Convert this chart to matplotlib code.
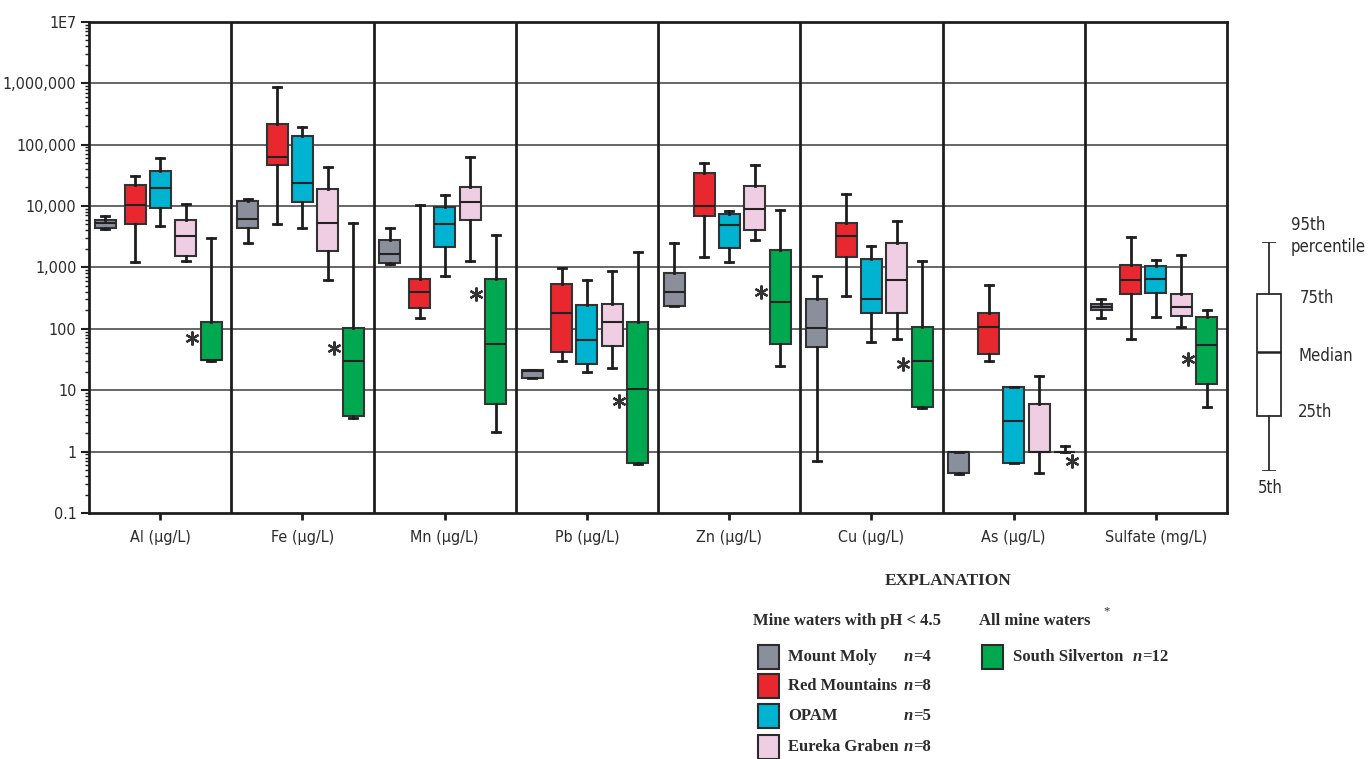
import matplotlib
matplotlib.use("Agg")
import matplotlib.pyplot as plt
from matplotlib import font_manager
from matplotlib.patches import Rectangle
from matplotlib.ticker import FixedLocator, LogLocator, NullFormatter

# constituents on the x axis
groups = ["Al (µg/L)", "Fe (µg/L)", "Mn (µg/L)", "Pb (µg/L)",
          "Zn (µg/L)", "Cu (µg/L)", "As (µg/L)", "Sulfate (mg/L)"]

# (5th, 25th, median, 75th, 95th) for each constituent
mount_moly = [(4200, 4420, 5240, 5850, 6900), (2530, 4350, 6050, 12000, 13100),
              (1120, 1190, 1680, 2790, 4300), (15.9, 15.9, 20.4, 21.5, 21.5),
              (235, 238, 404, 820, 2460), (0.71, 50, 102, 310, 720),
              (0.43, 0.44, 1.0, 1.0, 1.0), (152, 202, 226, 250, 310)]
red_mountains = [(1220, 5050, 10500, 22000, 31000), (5050, 47000, 63000, 218000, 880000),
                 (148, 219, 395, 640, 10500), (29.7, 42.5, 178, 543, 970),
                 (1450, 6900, 10100, 34000, 50500), (336, 1500, 3220, 5360, 15500),
                 (30, 39, 105, 178, 519), (68, 371, 630, 1090, 3160)]
opam = [(4650, 9100, 19700, 37000, 60000), (4420, 11600, 23800, 140000, 190000),
        (730, 2150, 5050, 9750, 15000), (19.9, 26.3, 65.5, 246, 630),
        (1230, 2040, 4860, 7500, 8150), (60, 181, 310, 1370, 2225),
        (0.64, 0.64, 3.16, 11.4, 11.4), (154, 388, 640, 1070, 1310)]
eureka_graben = [(1260, 1520, 3300, 5800, 10900), (630, 1860, 5350, 18700, 43000),
                 (1260, 5800, 11500, 20200, 62400), (23.2, 52.4, 128, 256, 870),
                 (2790, 4080, 9040, 21300, 45700), (69, 178, 630, 2530, 5600),
                 (0.45, 1.0, 1.0, 5.86, 17.2), (106, 163, 226, 362, 1590)]
south_silverton = [(30, 30.5, 30.9, 128, 3030), (3.57, 3.75, 30.4, 104, 5250),
                   (2.05, 5.94, 56.5, 640, 3360), (0.63, 0.64, 10.4, 128, 1810),
                   (24.6, 56.5, 274, 1950, 8700), (5.1, 5.24, 30.4, 105, 1260),
                   (1.0, 1.0, 1.0, 1.0, 1.25), (5.3, 12.8, 54.3, 155, 204)]

# where the asterisk sits next to the South Silverton box
star_y = [70, 49, 371, 6.7, 400, 27, 0.7, 32]

sites = ["Mount Moly", "Red Mountains", "OPAM", "Eureka Graben", "South Silverton"]
counts = ["4", "8", "5", "8", "12"]
colors = ["#8a8f9b", "#e8282e", "#00b3d1", "#efcee3", "#00a94f"]

ytick_vals = [0.1, 1, 10, 100, 1000, 1e4, 1e5, 1e6, 1e7]
ytick_labels = ["0.1", "1", "10", "100", "1,000", "10,000", "100,000", "1,000,000", "1E7"]

# condensed sans if the system has one, otherwise plain DejaVu a bit smaller
cond = font_manager.FontProperties(family="DejaVu Sans", stretch="condensed")
cond_path = font_manager.findfont(cond)
if "Condensed" in cond_path:
    sans = font_manager.FontProperties(fname=cond_path)
    fs = 11.5
else:
    sans = font_manager.FontProperties(family="DejaVu Sans")
    fs = 10.5
serif = ["Liberation Serif", "DejaVu Serif"]
ink = "#2b2b2b"

W, H = 1369, 759
fig = plt.figure(figsize=(W / 100, H / 100), dpi=100)


def fx(x):
    return x / W


def fy(y):
    return 1 - y / H


ax = fig.add_axes([fx(89), fy(513), fx(1227) - fx(89), fy(21.7) - fy(513)])
ax.set_yscale("log")
ax.set_ylim(0.1, 1e7)
ax.set_xlim(-0.5, len(groups) - 0.5)

offsets = [-0.385, -0.176, 0.0, 0.179, 0.358]
all_sites = [mount_moly, red_mountains, opam, eureka_graben, south_silverton]
for s, site in enumerate(all_sites):
    stats = []
    for p5, p25, med, p75, p95 in site:
        stats.append(dict(whislo=p5, q1=p25, med=med, q3=p75, whishi=p95, fliers=[]))
    pos = [g + offsets[s] for g in range(len(groups))]
    ax.bxp(stats, positions=pos, widths=0.148, capwidths=0.056, showfliers=False,
           patch_artist=True, manage_ticks=False,
           boxprops=dict(facecolor=colors[s], edgecolor="#333333", linewidth=1.5),
           medianprops=dict(color="#222222", linewidth=1.5),
           whiskerprops=dict(color="#1e1e1e", linewidth=2),
           capprops=dict(color="#1e1e1e", linewidth=2), zorder=3)

# asterisks marking "all mine waters"
for g in range(len(groups)):
    dx = -0.135 if g != 6 else 0.05
    ax.plot(g + offsets[4] + dx, star_y[g], marker=(6, 2, 0), ms=10, mew=1.6,
            color="#333333", zorder=4)

# grid and group separators
for v in ytick_vals[1:-1]:
    ax.axhline(v, color="#5a5a5a", lw=1.3, zorder=1)
for g in range(1, len(groups)):
    ax.axvline(g - 0.5, color="#1e1e1e", lw=2, zorder=1)
for sp in ax.spines.values():
    sp.set_linewidth(2)
    sp.set_color("#1e1e1e")

ax.yaxis.set_major_locator(FixedLocator(ytick_vals))
ax.set_yticklabels(ytick_labels)
ax.yaxis.set_minor_locator(LogLocator(base=10, subs=range(2, 10), numticks=20))
ax.yaxis.set_minor_formatter(NullFormatter())
ax.tick_params(axis="y", which="major", length=6, width=1.5, pad=3, color="#1e1e1e",
               labelcolor=ink)
ax.tick_params(axis="y", which="minor", length=3, width=1, color="#1e1e1e")
ax.set_xticks(range(len(groups)))
ax.set_xticklabels(groups)
ax.tick_params(axis="x", length=5, width=2, pad=7, color="#1e1e1e", labelcolor=ink)
for lab in ax.get_xticklabels() + ax.get_yticklabels():
    lab.set_fontproperties(sans)
    lab.set_fontsize(fs)

# box-plot key on the right
kax = fig.add_axes([fx(1229), fy(470.7), fx(80), fy(242) - fy(470.7)])
kax.set_xlim(-0.5, 0.5)
kax.set_ylim(0, 1)
kax.axis("off")
key_stats = [dict(whislo=0, q1=0.2405, med=0.52, q3=0.774, whishi=1, fliers=[])]
kax.bxp(key_stats, positions=[0], widths=0.3, capwidths=0.14, showfliers=False,
        patch_artist=True, manage_ticks=False,
        boxprops=dict(facecolor="white", edgecolor=ink, linewidth=1.3),
        medianprops=dict(color="#222222", linewidth=1.8),
        whiskerprops=dict(color=ink, linewidth=1.3),
        capprops=dict(color=ink, linewidth=1.3))
for label, x, y, ha in [("95th", 1291, 225, "left"), ("percentile", 1291, 247, "left"),
                        ("75th", 1300, 298, "left"), ("Median", 1298, 356, "left"),
                        ("25th", 1298, 412, "left"), ("5th", 1270, 488, "center")]:
    fig.text(fx(x), fy(y), label, ha=ha, va="center", fontproperties=sans,
             fontsize=fs + 0.5, color=ink)

# explanation
bold_serif = dict(fontsize=12, fontweight="bold", family=serif, color=ink)
fig.text(fx(948), fy(581), "EXPLANATION", ha="center", va="center",
         **dict(bold_serif, fontsize=12.5))
fig.text(fx(753), fy(621), "Mine waters with pH < 4.5", ha="left", va="center", **bold_serif)
fig.text(fx(979), fy(621), "All mine waters", ha="left", va="center", **bold_serif)
fig.text(fx(1107), fy(611), "*", ha="center", va="center", fontsize=9, family=serif,
         color=ink)

rows = [657, 686, 716, 747]
entries = [(758, rows[0], 788, 904), (758, rows[1], 788, 904), (758, rows[2], 788, 904),
           (758, rows[3], 788, 904), (982, rows[0], 1013, 1133)]
for s, (bx, by, tx, nx) in enumerate(entries):
    fig.add_artist(Rectangle((fx(bx), fy(by + 12)), fx(21), 24 / H, transform=fig.transFigure,
                             facecolor=colors[s], edgecolor=ink, lw=1.5))
    fig.text(fx(tx), fy(by), sites[s], ha="left", va="center", **bold_serif)
    fig.text(fx(nx), fy(by), "n", ha="left", va="center", fontstyle="italic", **bold_serif)
    fig.text(fx(nx + 9), fy(by), "=" + counts[s], ha="left", va="center", **bold_serif)

fig.savefig("out.png", dpi=100)
